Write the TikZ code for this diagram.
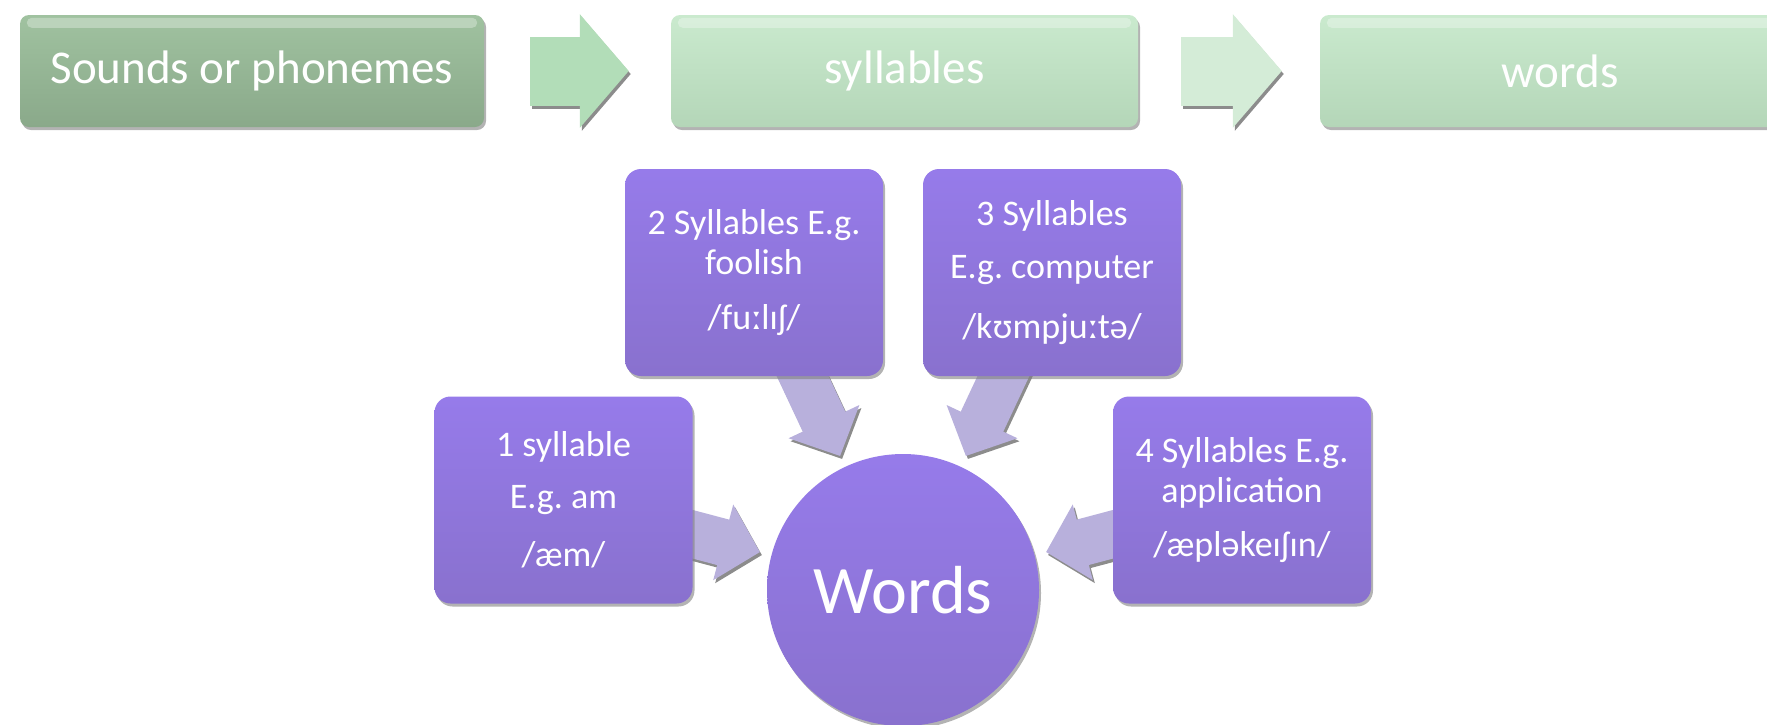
\documentclass[tikz,border=0pt]{standalone}
\usepackage{fontspec}
\setmainfont{Carlito}
\frenchspacing
\usetikzlibrary{arrows.meta,calc,shadows,positioning}
\pgfdeclarelayer{bg}
\pgfsetlayers{bg,main}
\definecolor{purptop}{RGB}{150,123,234}
\definecolor{purpbot}{RGB}{137,113,206}
\definecolor{lavender}{RGB}{184,176,220}
\definecolor{sagetop}{RGB}{160,194,160}
\definecolor{sagebot}{RGB}{138,169,138}
\definecolor{minttop}{RGB}{202,234,206}
\definecolor{mintbot}{RGB}{180,214,184}
\definecolor{mintarrow}{RGB}{178,221,184}
\definecolor{palearrow}{RGB}{212,236,215}
\tikzset{
	stagebox/.style={rectangle, rounded corners=9pt, minimum height=112pt, inner sep=0pt,
		text=white, font=\fontsize{47}{56}\selectfont,
		drop shadow={shadow xshift=2pt, shadow yshift=-3pt, opacity=0.6}},
	sage/.style={top color=sagetop, bottom color=sagebot},
	mint/.style={top color=minttop, bottom color=mintbot},
	syllbox/.style={rectangle, rounded corners=16pt, minimum width=258pt, minimum height=207pt,
		top color=purptop, bottom color=purpbot, text=white, align=center,
		font=\fontsize{36}{40}\selectfont,
		drop shadow={shadow xshift=2pt, shadow yshift=-3pt, opacity=0.6}},
	hub/.style={circle, minimum size=272pt, inner sep=0pt,
		top color=purptop, bottom color=purpbot, text=white,
		font=\fontsize{68}{80}\selectfont,
		drop shadow={shadow xshift=2pt, shadow yshift=-3pt, opacity=0.6}},
	syllarrow/.style={draw=lavender, line width=47pt, -{Triangle[width=76pt, length=38pt]}},
	arrowshadow/.style={syllarrow, draw=black!45, transform canvas={xshift=2pt, yshift=-3pt}},
	stagearrow/.style={line width=69pt, -{Triangle[width=111pt, length=49pt]}},
	gloss/.style={fill=white, opacity=0.3, rounded corners=5pt}
}
\begin{document}
\begin{tikzpicture}[x=1pt, y=-1pt]
	\useasboundingbox (0,0) rectangle (1767,724);
	\clip (0,0) rectangle (1767,724);

	% top row
	\node[stagebox, sage, minimum width=464pt] (sounds) at (252,71) {Sounds or phonemes};
	\node[stagebox, mint, minimum width=467pt] (syll) at (904.5,71) {syllables};
	\node[stagebox, mint, minimum width=480pt] (wordsbox) at (1560,71) {words};
	\foreach \b in {sounds,syll,wordsbox}
		\fill[gloss] ($(\b.north west)+(7,3)$) rectangle ($(\b.north east)+(-7,13)$);

	% syllable boxes round the hub
	\node[syllbox] (two) at (754,272.5) {2 Syllables E.g.\\foolish\\[15pt]/fuːlɪʃ/};
	\node[syllbox] (three) at (1052,272.5) {3 Syllables\\[13pt]E.g. computer\\[20pt]/kʊmpjuːtə/};
	\node[syllbox] (one) at (563.5,500) {1 syllable\\[12pt]E.g. am\\[18pt]/æm/};
	\node[syllbox] (four) at (1242,500) {4 Syllables E.g.\\application\\[14pt]/æpləkeɪʃɪn/};
	\node[hub] (words) at (903,590) {Words};

	\begin{pgfonlayer}{bg}
		\foreach \src in {one,two,three,four}{
			\draw[arrowshadow] (\src.center) -- ($(words.center)!148pt!(\src.center)$);
			\draw[syllarrow] (\src.center) -- ($(words.center)!148pt!(\src.center)$);
		}
		\draw[stagearrow, draw=black!45, transform canvas={xshift=2pt, yshift=-3pt}, shorten <=46pt, shorten >=42pt] (sounds.east) -- (syll.west);
		\draw[stagearrow, draw=mintarrow, shorten <=46pt, shorten >=42pt] (sounds.east) -- (syll.west);
		\draw[stagearrow, draw=black!45, transform canvas={xshift=2pt, yshift=-3pt}, shorten <=43pt, shorten >=38pt] (syll.east) -- (wordsbox.west);
		\draw[stagearrow, draw=palearrow, shorten <=43pt, shorten >=38pt] (syll.east) -- (wordsbox.west);
	\end{pgfonlayer}
\end{tikzpicture}
\end{document}
